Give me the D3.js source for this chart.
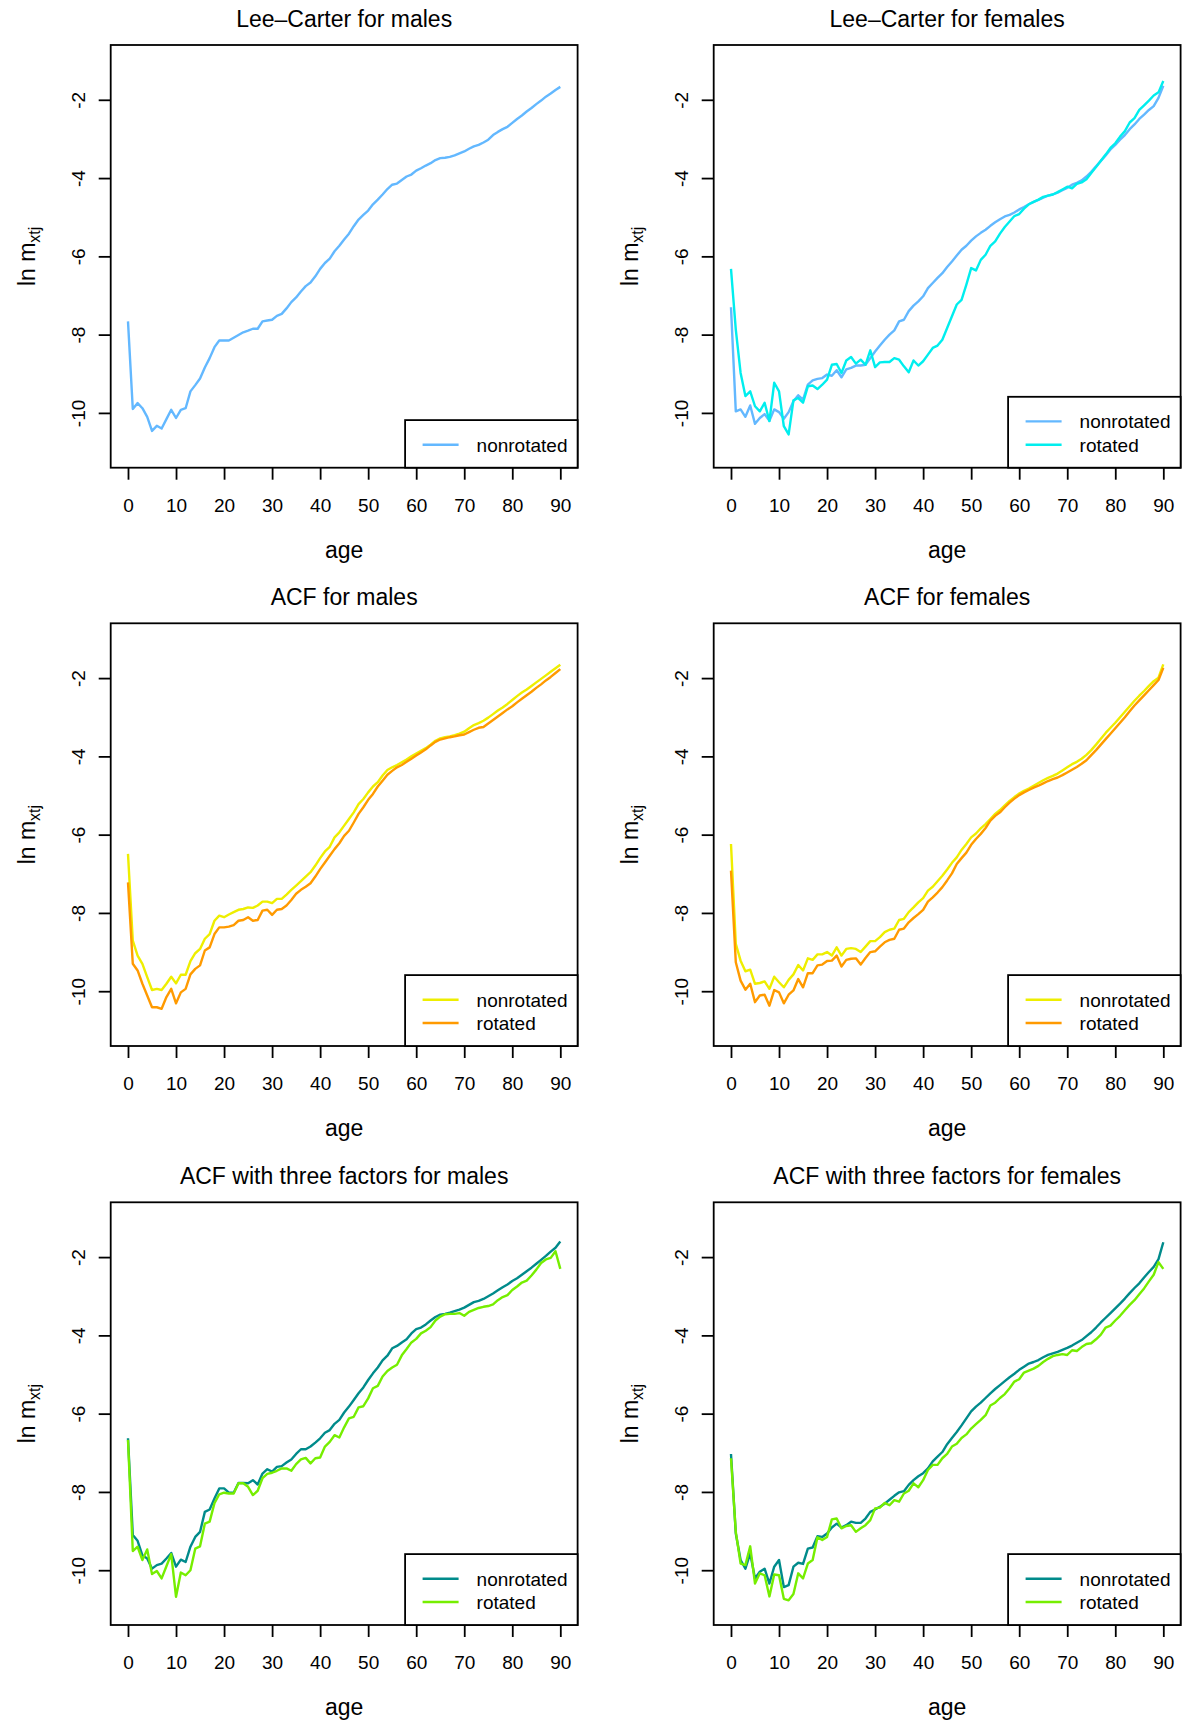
<!DOCTYPE html>
<html>
<head>
<meta charset="utf-8">
<script src="https://cdnjs.cloudflare.com/ajax/libs/d3/7.8.5/d3.min.js"></script>
<style>
  body { margin: 0; background: #fff; }
  svg text { font-family: "Liberation Sans", Arial, sans-serif; fill: #000; }
</style>
</head>
<body>
<div id="chart"></div>
<script>
var ages = [0,1,2,3,4,5,6,7,8,9,10,11,12,13,14,15,16,17,18,19,20,21,22,23,24,25,26,27,28,29,30,
  31,32,33,34,35,36,37,38,39,40,41,42,43,44,45,46,47,48,49,50,51,52,53,54,55,56,57,58,59,60,
  61,62,63,64,65,66,67,68,69,70,71,72,73,74,75,76,77,78,79,80,81,82,83,84,85,86,87,88,89,90];
var xTicks = [0,10,20,30,40,50,60,70,80,90];
var yTicks = [-2,-4,-6,-8,-10];
var seriesNames = ["nonrotated", "rotated"];

// Lee-Carter
var lcMaleNon = [-7.66,-9.9,-9.75,-9.88,-10.1,-10.46,-10.33,-10.4,-10.16,-9.92,-10.13,-9.92,-9.88,-9.45,-9.29,-9.12,-8.84,-8.6,-8.32,-8.15,
  -8.15,-8.15,-8.08,-8.01,-7.94,-7.9,-7.85,-7.85,-7.66,-7.64,-7.62,-7.52,-7.47,-7.33,-7.17,-7.05,-6.9,-6.76,-6.67,-6.51,
  -6.32,-6.17,-6.06,-5.87,-5.73,-5.57,-5.42,-5.23,-5.06,-4.94,-4.83,-4.67,-4.55,-4.42,-4.28,-4.17,-4.14,-4.05,-3.96,-3.91,
  -3.81,-3.75,-3.68,-3.62,-3.54,-3.49,-3.48,-3.46,-3.42,-3.37,-3.32,-3.25,-3.19,-3.15,-3.09,-3.02,-2.9,-2.82,-2.75,-2.69,
  -2.59,-2.49,-2.4,-2.3,-2.21,-2.11,-2.02,-1.92,-1.84,-1.75,-1.67];
var lcFemaleNon = [-7.3,-9.96,-9.91,-10.1,-9.81,-10.28,-10.13,-10.03,-10.2,-9.91,-9.98,-10.15,-9.98,-9.7,-9.55,-9.66,-9.28,-9.17,-9.13,-9.11,
  -9.02,-9.05,-8.91,-9.09,-8.89,-8.85,-8.79,-8.79,-8.77,-8.6,-8.43,-8.28,-8.13,-8.0,-7.89,-7.66,-7.62,-7.4,-7.26,-7.15,
  -7.02,-6.81,-6.68,-6.55,-6.43,-6.27,-6.13,-5.98,-5.83,-5.73,-5.6,-5.49,-5.4,-5.32,-5.22,-5.13,-5.05,-4.98,-4.94,-4.88,
  -4.8,-4.74,-4.67,-4.61,-4.56,-4.5,-4.45,-4.42,-4.37,-4.31,-4.25,-4.17,-4.12,-4.06,-3.96,-3.84,-3.7,-3.56,-3.42,-3.27,
  -3.15,-3.02,-2.9,-2.75,-2.63,-2.49,-2.38,-2.26,-2.16,-1.95,-1.64];
var lcFemaleRot = [-6.32,-7.87,-8.98,-9.57,-9.45,-9.83,-9.96,-9.74,-10.21,-9.23,-9.45,-10.34,-10.55,-9.68,-9.62,-9.74,-9.32,-9.3,-9.39,-9.28,
  -9.15,-8.77,-8.75,-8.98,-8.66,-8.57,-8.74,-8.64,-8.77,-8.4,-8.83,-8.71,-8.7,-8.7,-8.6,-8.64,-8.81,-8.96,-8.66,-8.79,
  -8.68,-8.51,-8.34,-8.28,-8.13,-7.83,-7.53,-7.23,-7.11,-6.72,-6.3,-6.36,-6.09,-5.96,-5.73,-5.62,-5.42,-5.25,-5.11,-4.97,
  -4.92,-4.78,-4.67,-4.61,-4.55,-4.48,-4.45,-4.42,-4.36,-4.29,-4.22,-4.26,-4.15,-4.11,-4.03,-3.87,-3.72,-3.56,-3.4,-3.23,
  -3.11,-2.94,-2.8,-2.58,-2.47,-2.26,-2.14,-2.02,-1.89,-1.81,-1.52];

// ACF
var acfMaleNon = [-6.49,-8.71,-9.09,-9.3,-9.64,-9.97,-9.94,-9.97,-9.81,-9.63,-9.8,-9.58,-9.58,-9.23,-9.03,-8.92,-8.66,-8.54,-8.2,-8.07,
  -8.11,-8.04,-7.98,-7.92,-7.9,-7.86,-7.87,-7.81,-7.71,-7.71,-7.75,-7.64,-7.64,-7.53,-7.41,-7.3,-7.19,-7.07,-6.96,-6.79,
  -6.6,-6.43,-6.31,-6.07,-5.94,-5.77,-5.6,-5.43,-5.22,-5.09,-4.92,-4.77,-4.66,-4.49,-4.35,-4.28,-4.22,-4.15,-4.08,-4.0,
  -3.93,-3.86,-3.79,-3.7,-3.6,-3.54,-3.51,-3.49,-3.46,-3.42,-3.37,-3.28,-3.2,-3.15,-3.09,-3.01,-2.92,-2.83,-2.75,-2.66,
  -2.56,-2.46,-2.37,-2.29,-2.2,-2.11,-2.02,-1.93,-1.84,-1.75,-1.66];
var acfMaleRot = [-7.22,-9.3,-9.47,-9.81,-10.11,-10.41,-10.41,-10.45,-10.15,-9.94,-10.31,-10.03,-9.94,-9.57,-9.43,-9.34,-8.96,-8.88,-8.54,-8.37,
  -8.37,-8.35,-8.31,-8.2,-8.18,-8.11,-8.2,-8.18,-7.94,-7.92,-8.05,-7.92,-7.9,-7.81,-7.67,-7.51,-7.41,-7.33,-7.24,-7.07,
  -6.88,-6.71,-6.54,-6.37,-6.22,-6.03,-5.9,-5.69,-5.47,-5.3,-5.11,-4.96,-4.77,-4.62,-4.47,-4.37,-4.28,-4.22,-4.14,-4.06,
  -3.98,-3.9,-3.82,-3.72,-3.63,-3.57,-3.54,-3.51,-3.49,-3.46,-3.44,-3.38,-3.32,-3.27,-3.25,-3.16,-3.07,-2.98,-2.89,-2.8,
  -2.72,-2.62,-2.53,-2.44,-2.35,-2.25,-2.16,-2.06,-1.97,-1.87,-1.77];
var acfFemaleNon = [-6.24,-8.79,-9.22,-9.49,-9.45,-9.81,-9.79,-9.75,-9.94,-9.63,-9.77,-9.9,-9.71,-9.57,-9.33,-9.47,-9.16,-9.2,-9.06,-9.06,
  -9.0,-9.09,-8.88,-9.09,-8.92,-8.9,-8.92,-9.0,-8.86,-8.72,-8.72,-8.62,-8.49,-8.43,-8.4,-8.18,-8.15,-7.98,-7.86,-7.73,
  -7.62,-7.43,-7.33,-7.19,-7.05,-6.89,-6.72,-6.58,-6.39,-6.24,-6.07,-5.97,-5.84,-5.73,-5.6,-5.47,-5.37,-5.25,-5.14,-5.04,
  -4.95,-4.88,-4.82,-4.75,-4.68,-4.61,-4.55,-4.5,-4.44,-4.36,-4.28,-4.2,-4.14,-4.06,-3.96,-3.84,-3.7,-3.55,-3.4,-3.27,
  -3.14,-3.0,-2.86,-2.72,-2.58,-2.45,-2.33,-2.2,-2.08,-1.99,-1.65];
var acfFemaleRot = [-6.92,-9.26,-9.73,-9.96,-9.81,-10.28,-10.11,-10.09,-10.37,-9.97,-10.03,-10.31,-10.09,-9.98,-9.69,-9.9,-9.54,-9.54,-9.34,-9.32,
  -9.23,-9.22,-9.09,-9.37,-9.2,-9.17,-9.16,-9.32,-9.15,-9.0,-8.98,-8.86,-8.75,-8.69,-8.66,-8.43,-8.4,-8.24,-8.13,-8.03,
  -7.92,-7.71,-7.6,-7.48,-7.34,-7.17,-6.99,-6.75,-6.6,-6.46,-6.26,-6.11,-5.98,-5.83,-5.64,-5.52,-5.43,-5.3,-5.18,-5.08,
  -4.99,-4.92,-4.86,-4.8,-4.75,-4.69,-4.63,-4.58,-4.54,-4.48,-4.41,-4.34,-4.27,-4.19,-4.1,-3.97,-3.84,-3.7,-3.56,-3.42,
  -3.28,-3.14,-3.0,-2.85,-2.7,-2.57,-2.44,-2.31,-2.18,-2.05,-1.74];

// ACF with three factors
var acf3MaleNon = [-6.63,-9.1,-9.25,-9.62,-9.7,-9.96,-9.87,-9.83,-9.7,-9.56,-9.91,-9.73,-9.79,-9.4,-9.15,-9.02,-8.51,-8.45,-8.17,-7.91,
  -7.91,-8.02,-8.02,-7.77,-7.77,-7.78,-7.7,-7.81,-7.53,-7.42,-7.48,-7.36,-7.34,-7.25,-7.17,-7.03,-6.91,-6.91,-6.84,-6.74,
  -6.63,-6.49,-6.42,-6.26,-6.16,-5.97,-5.82,-5.65,-5.48,-5.33,-5.14,-4.97,-4.82,-4.64,-4.52,-4.33,-4.27,-4.18,-4.1,-3.95,
  -3.84,-3.8,-3.72,-3.62,-3.53,-3.47,-3.45,-3.42,-3.38,-3.34,-3.29,-3.22,-3.15,-3.12,-3.07,-3.0,-2.93,-2.85,-2.77,-2.7,
  -2.61,-2.54,-2.45,-2.36,-2.27,-2.17,-2.07,-1.97,-1.86,-1.76,-1.6];
var acf3MaleRot = [-6.67,-9.51,-9.4,-9.74,-9.47,-10.1,-10.02,-10.21,-9.9,-9.59,-10.68,-10.06,-10.13,-10.0,-9.45,-9.39,-8.81,-8.76,-8.29,-8.06,
  -8.02,-8.04,-8.04,-7.78,-7.78,-7.87,-8.08,-7.97,-7.65,-7.54,-7.51,-7.46,-7.4,-7.4,-7.46,-7.29,-7.17,-7.13,-7.27,-7.14,
  -7.12,-6.84,-6.72,-6.55,-6.61,-6.35,-6.12,-6.08,-5.84,-5.81,-5.61,-5.35,-5.29,-5.05,-4.91,-4.82,-4.75,-4.51,-4.35,-4.18,
  -4.09,-3.95,-3.88,-3.79,-3.62,-3.52,-3.46,-3.45,-3.45,-3.43,-3.5,-3.4,-3.35,-3.3,-3.27,-3.25,-3.21,-3.1,-3.02,-2.97,
  -2.84,-2.75,-2.65,-2.6,-2.47,-2.32,-2.15,-2.06,-2.02,-1.85,-2.3];
var acf3FemaleNon = [-7.03,-9.06,-9.74,-9.96,-9.57,-10.21,-10.04,-9.96,-10.34,-9.91,-9.74,-10.43,-10.38,-9.91,-9.81,-9.84,-9.45,-9.42,-9.13,-9.15,
  -9.06,-8.91,-8.81,-8.91,-8.85,-8.76,-8.79,-8.79,-8.68,-8.51,-8.45,-8.38,-8.3,-8.2,-8.1,-8.01,-7.98,-7.82,-7.7,-7.6,
  -7.52,-7.4,-7.22,-7.1,-6.98,-6.78,-6.62,-6.47,-6.3,-6.12,-5.94,-5.82,-5.72,-5.6,-5.48,-5.37,-5.27,-5.17,-5.07,-4.98,
  -4.88,-4.8,-4.72,-4.68,-4.63,-4.56,-4.5,-4.46,-4.42,-4.37,-4.32,-4.26,-4.19,-4.12,-4.02,-3.92,-3.8,-3.67,-3.55,-3.43,
  -3.31,-3.19,-3.06,-2.92,-2.79,-2.67,-2.52,-2.38,-2.25,-2.05,-1.62];
var acf3FemaleRot = [-7.14,-9.02,-9.83,-9.87,-9.39,-10.34,-10.08,-10.13,-10.67,-10.11,-10.13,-10.73,-10.77,-10.61,-10.08,-10.21,-9.83,-9.74,-9.16,-9.23,
  -9.15,-8.7,-8.68,-8.93,-8.87,-8.85,-9.02,-8.93,-8.85,-8.72,-8.42,-8.4,-8.28,-8.34,-8.21,-8.25,-8.04,-7.97,-7.78,-7.88,
  -7.7,-7.44,-7.31,-7.31,-7.14,-7.03,-6.84,-6.77,-6.62,-6.53,-6.38,-6.27,-6.16,-6.04,-5.79,-5.72,-5.6,-5.5,-5.35,-5.18,
  -5.12,-4.95,-4.9,-4.85,-4.78,-4.68,-4.6,-4.53,-4.5,-4.48,-4.5,-4.38,-4.4,-4.3,-4.22,-4.2,-4.1,-3.98,-3.8,-3.75,
  -3.62,-3.5,-3.36,-3.22,-3.1,-2.95,-2.8,-2.62,-2.45,-2.13,-2.3];

var colLC = ["#63B8FF", "#00EEEE"];
var colACF = ["#EEEE00", "#FF9A00"];
var colACF3 = ["#008B8B", "#76EE00"];

var panels = [
  {title: "Lee\u2013Carter for males", col: 0, row: 0, series: [lcMaleNon], colors: colLC},
  {title: "Lee\u2013Carter for females", col: 1, row: 0, series: [lcFemaleNon, lcFemaleRot], colors: colLC},
  {title: "ACF for males", col: 0, row: 1, series: [acfMaleNon, acfMaleRot], colors: colACF},
  {title: "ACF for females", col: 1, row: 1, series: [acfFemaleNon, acfFemaleRot], colors: colACF},
  {title: "ACF with three factors for males", col: 0, row: 2, series: [acf3MaleNon, acf3MaleRot], colors: colACF3},
  {title: "ACF with three factors for females", col: 1, row: 2, series: [acf3FemaleNon, acf3FemaleRot], colors: colACF3}
];

var Panel = function (props) {
  this.svg = props.svg;
  this.p = props.panel;
  this.left = props.left;
  this.top = props.top;
  this.width = props.width;
  this.height = props.height;
  this.draw();
};

Panel.prototype.draw = function () {
  var p = this.p, left = this.left, top = this.top;
  var right = left + this.width, bottom = top + this.height;
  var g = this.svg.append("g");

  var x = d3.scaleLinear().domain([-3.6, 93.6]).range([left, right]);
  var y = d3.scaleLinear().domain([-11.4, -0.6]).range([bottom, top]);

  // lines, nonrotated first
  var line = d3.line()
    .x(function (d, i) { return x(ages[i]); })
    .y(function (d) { return y(d); });

  p.series.forEach(function (s, i) {
    g.append("path")
      .datum(s)
      .attr("d", line)
      .attr("fill", "none")
      .attr("stroke", p.colors[i])
      .attr("stroke-width", 2.4)
      .attr("stroke-linejoin", "round");
  });

  // x axis
  var xa = g.append("g")
    .attr("transform", "translate(0," + bottom + ")")
    .call(d3.axisBottom(x).tickValues(xTicks).tickSize(12).tickSizeOuter(0).tickPadding(18.5)
      .tickFormat(function (d) { return String(d); }));
  xa.select(".domain").remove();
  xa.selectAll("line").attr("stroke", "#000").attr("stroke-width", 1.8);
  xa.selectAll("text").attr("font-size", 19).attr("fill", "#000")
    .style("font-family", '"Liberation Sans", Arial, sans-serif');

  // y axis, labels turned like R
  var ya = g.append("g")
    .attr("transform", "translate(" + left + ",0)")
    .call(d3.axisLeft(y).tickValues(yTicks).tickSize(12).tickSizeOuter(0)
      .tickFormat(function (d) { return String(d); }));
  ya.select(".domain").remove();
  ya.selectAll("line").attr("stroke", "#000").attr("stroke-width", 1.8);
  ya.selectAll("text")
    .attr("x", null).attr("dy", null)
    .attr("text-anchor", "middle")
    .attr("transform", "translate(-25.5,0) rotate(-90)")
    .attr("font-size", 19).attr("fill", "#000")
    .style("font-family", '"Liberation Sans", Arial, sans-serif');

  // box
  g.append("rect")
    .attr("x", left).attr("y", top)
    .attr("width", this.width).attr("height", this.height)
    .attr("fill", "none").attr("stroke", "#000").attr("stroke-width", 1.8);

  // title + axis titles
  g.append("text")
    .attr("x", (left + right) / 2).attr("y", top - 18)
    .attr("text-anchor", "middle").attr("font-size", 23)
    .text(p.title);

  g.append("text")
    .attr("x", (left + right) / 2).attr("y", bottom + 90)
    .attr("text-anchor", "middle").attr("font-size", 23)
    .text("age");

  var yl = g.append("text")
    .attr("transform", "translate(" + (left - 75.5) + "," + ((top + bottom) / 2) + ") rotate(-90)")
    .attr("text-anchor", "middle").attr("font-size", 23);
  yl.append("tspan").text("ln m");
  yl.append("tspan").attr("font-size", 16).attr("dy", 5).text("xtj");

  // legend, bottom right corner
  var n = p.series.length;
  var lh = 24.3 + 23.3 * n;
  var lg = g.append("g");
  lg.append("rect")
    .attr("x", right - 172.5).attr("y", bottom - lh)
    .attr("width", 172.5).attr("height", lh)
    .attr("fill", "#fff").attr("stroke", "#000").attr("stroke-width", 1.8);
  for (var i = 0; i < n; i++) {
    var ly = bottom - 23 - 23.3 * (n - 1 - i);
    lg.append("line")
      .attr("x1", right - 155).attr("x2", right - 119)
      .attr("y1", ly).attr("y2", ly)
      .attr("stroke", p.colors[i]).attr("stroke-width", 2.4);
    lg.append("text")
      .attr("x", right - 101).attr("y", ly + 7)
      .attr("font-size", 19)
      .text(seriesNames[i]);
  }
};

var svg = d3.select("#chart").append("svg")
  .attr("width", 1182).attr("height", 1722);

var colLeft = [110.7, 713.7];
var rowTop = [45, 623.3, 1202.3];

panels.forEach(function (p) {
  new Panel({
    svg: svg,
    panel: p,
    left: colLeft[p.col],
    top: rowTop[p.row],
    width: 466.9,
    height: 422.7
  });
});
</script>
</body>
</html>
